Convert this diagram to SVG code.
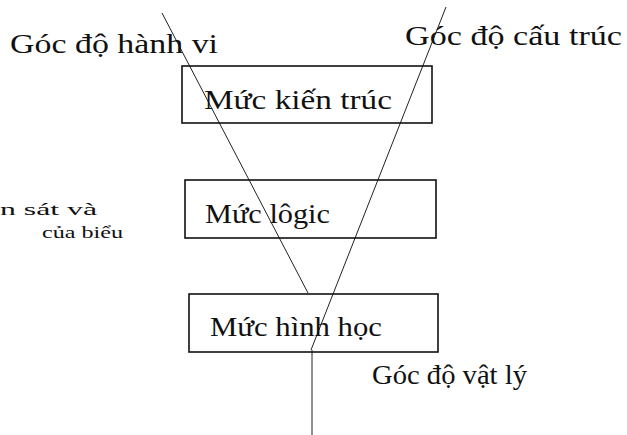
<svg xmlns="http://www.w3.org/2000/svg" width="627" height="435" viewBox="0 0 627 435">
  <defs>
    <style>
      .box { fill: none; stroke: #111; stroke-width: 1.6; }
      .axis { fill: none; stroke: #222; stroke-width: 1; }
    </style>
  </defs>
  <rect width="627" height="435" fill="#fff"/>

  <!-- viewpoint axes -->
  <g id="connectors">
    <line class="axis" x1="162" y1="13" x2="308" y2="293"/>
    <line class="axis" x1="446" y1="7" x2="311" y2="350"/>
    <line class="axis" x1="312" y1="350" x2="312" y2="435" stroke-width="1.3"/>
  </g>

  <g font-family="Liberation Serif, DejaVu Serif, serif" font-size="27" fill="#111">
    <!-- viewpoint labels -->
    <g id="view-behaviour">
      <text x="10" y="53" textLength="208" lengthAdjust="spacingAndGlyphs">Góc độ hành vi</text>
    </g>
    <g id="view-structure">
      <text x="405" y="45" textLength="217" lengthAdjust="spacingAndGlyphs">Góc độ cấu trúc</text>
    </g>
    <g id="view-physical">
      <text x="372" y="384" textLength="155" lengthAdjust="spacingAndGlyphs">Góc độ vật lý</text>
    </g>

    <!-- level boxes -->
    <g id="level-architecture">
      <rect class="box" x="182" y="66" width="250" height="57"/>
      <text x="204" y="109" textLength="188" lengthAdjust="spacingAndGlyphs">Mức kiến trúc</text>
    </g>
    <g id="level-logic">
      <rect class="box" x="185" y="180" width="251" height="58"/>
      <text x="205" y="223" textLength="125" lengthAdjust="spacingAndGlyphs">Mức lôgic</text>
    </g>
    <g id="level-geometry">
      <rect class="box" x="189" y="294" width="249" height="58"/>
      <text x="210" y="336" textLength="172" lengthAdjust="spacingAndGlyphs">Mức hình học</text>
    </g>

    <!-- side note, clipped at the left edge -->
    <g id="side-note" font-size="16">
      <text x="0" y="215" textLength="97" lengthAdjust="spacingAndGlyphs">n sát và</text>
      <text x="42" y="238" textLength="81" lengthAdjust="spacingAndGlyphs">của biểu</text>
    </g>
  </g>
</svg>
